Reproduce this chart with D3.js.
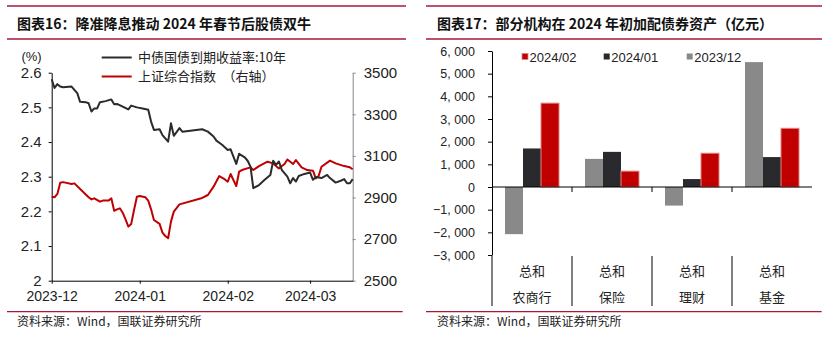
<!DOCTYPE html>
<html><head><meta charset="utf-8">
<script src="https://cdn.jsdelivr.net/npm/d3@7"></script>
<style>body{margin:0;background:#fff}svg{display:block}</style>
</head><body><svg id="c" width="832" height="337"></svg>
<script>
// ---------- Left chart data ----------
const yieldDates = ["2023-12-01","2023-12-02","2023-12-03","2023-12-04","2023-12-05","2023-12-08","2023-12-10","2023-12-11","2023-12-13","2023-12-14","2023-12-15","2023-12-16","2023-12-17","2023-12-18","2023-12-20","2023-12-22","2023-12-23","2023-12-24","2023-12-26","2023-12-28","2023-12-29","2023-12-31","2024-01-02","2024-01-04","2024-01-05","2024-01-06","2024-01-08","2024-01-09","2024-01-11","2024-01-12","2024-01-13","2024-01-15","2024-01-16","2024-01-23","2024-01-25","2024-01-27","2024-01-28","2024-01-30","2024-02-01","2024-02-02","2024-02-04","2024-02-05","2024-02-07","2024-02-08","2024-02-09","2024-02-10","2024-02-12","2024-02-14","2024-02-16","2024-02-17","2024-02-18","2024-02-19","2024-02-20","2024-02-22","2024-02-23","2024-02-24","2024-02-25","2024-02-26","2024-02-28","2024-03-01","2024-03-02","2024-03-03","2024-03-05","2024-03-07","2024-03-08","2024-03-10","2024-03-12","2024-03-13","2024-03-14","2024-03-15","2024-03-16"];
const yieldValues = [2.581,2.556,2.567,2.560,2.558,2.560,2.541,2.516,2.515,2.512,2.488,2.497,2.497,2.515,2.518,2.523,2.509,2.510,2.502,2.494,2.505,2.500,2.497,2.493,2.459,2.435,2.437,2.420,2.401,2.454,2.418,2.440,2.430,2.437,2.430,2.416,2.404,2.392,2.377,2.379,2.337,2.366,2.356,2.346,2.329,2.267,2.276,2.291,2.305,2.346,2.334,2.344,2.320,2.300,2.281,2.296,2.286,2.302,2.308,2.312,2.291,2.299,2.296,2.305,2.296,2.283,2.289,2.293,2.281,2.281,2.293];
const indexDates = ["2023-12-01","2023-12-02","2023-12-03","2023-12-04","2023-12-05","2023-12-08","2023-12-09","2023-12-12","2023-12-14","2023-12-15","2023-12-16","2023-12-18","2023-12-19","2023-12-21","2023-12-22","2023-12-23","2023-12-24","2023-12-25","2023-12-26","2023-12-27","2023-12-28","2023-12-29","2023-12-30","2023-12-31","2024-01-01","2024-01-03","2024-01-04","2024-01-05","2024-01-06","2024-01-08","2024-01-09","2024-01-10","2024-01-11","2024-01-12","2024-01-13","2024-01-15","2024-01-23","2024-01-25","2024-01-27","2024-01-29","2024-01-31","2024-02-01","2024-02-02","2024-02-04","2024-02-05","2024-02-06","2024-02-09","2024-02-10","2024-02-12","2024-02-15","2024-02-17","2024-02-19","2024-02-21","2024-02-22","2024-02-24","2024-02-25","2024-02-27","2024-02-29","2024-03-02","2024-03-03","2024-03-04","2024-03-05","2024-03-08","2024-03-10","2024-03-13","2024-03-15","2024-03-16"];
const indexValues = [2904,2901,2917,2971,2974,2965,2968,2928,2901,2891,2896,2880,2885,2885,2896,2836,2843,2848,2827,2795,2760,2773,2840,2904,2907,2901,2885,2843,2792,2773,2731,2715,2704,2784,2832,2867,2898,2912,2952,3003,2987,2976,3013,2955,3024,3032,3045,3032,3051,3072,3064,3040,3061,3083,3061,3080,3045,3032,3029,2992,3003,3048,3077,3064,3051,3045,3036];
const leftYTicks = [2, 2.1, 2.2, 2.3, 2.4, 2.5, 2.6];
const rightYTicks = [2500, 2700, 2900, 3100, 3300, 3500];
const xTickDates = ["2023-12-01","2024-01-01","2024-02-01","2024-03-01"];
const xDomain = ["2023-12-01","2024-03-16"];
const seriesLeft = ["中债国债到期收益率:10年", "上证综合指数　（右轴）"];

// ---------- Right chart data ----------
const categories = ["农商行", "保险", "理财", "基金"];
const groupLabel = "总和";
const seriesNames = ["2023/12", "2024/01", "2024/02"];
const v202312 = [-2080, 1240, -820, 5510];
const v202401 = [1700, 1550, 350, 1320];
const v202402 = [3700, 700, 1490, 2590];
const barYTicks = [-3000, -2000, -1000, 0, 1000, 2000, 3000, 4000, 5000, 6000];

const titles = ["图表16：降准降息推动 2024 年春节后股债双牛", "图表17：部分机构在 2024 年初加配债券资产（亿元）"];
const sourceText = "资料来源：Wind，国联证券研究所";

const svg = d3.select("#c");
svg.append("rect").attr("width", 832).attr("height", 337).attr("fill", "#fff");
const ruleColor = "#a8173a";
const sans = "'Liberation Sans', Arial, sans-serif";
const cjk = "'Noto Sans CJK SC', sans-serif";

// frames (rules, titles, sources)
[[7, 406, 17, 402.7], [426, 822, 437, 821.7]].forEach((f, i) => {
  svg.append("line").attr("x1", f[0]).attr("x2", f[1]).attr("y1", 6).attr("y2", 6).attr("stroke", ruleColor).attr("stroke-width", 1.5);
  svg.append("line").attr("x1", f[0]).attr("x2", f[1]).attr("y1", 39).attr("y2", 39).attr("stroke", ruleColor).attr("stroke-width", 1.5);
  svg.append("line").attr("x1", f[0]).attr("x2", f[3]).attr("y1", 311.7).attr("y2", 311.7).attr("stroke", ruleColor).attr("stroke-width", 1.3);
  svg.append("text").attr("x", f[2]).attr("y", 29).text(titles[i])
    .attr("font-family", cjk).attr("font-weight", "bold").attr("font-size", 14).attr("fill", "#111");
  svg.append("text").attr("x", f[2]).attr("y", 325.5).text(sourceText)
    .attr("font-family", cjk).attr("font-size", 12).attr("fill", "#222");
});

// ---------- Left chart ----------
const parse = d3.utcParse("%Y-%m-%d");
const xL = d3.scaleUtc().domain(xDomain.map(parse)).range([51.7, 352.7]);
const yL = d3.scaleLinear().domain([2, 2.6]).range([280.7, 72.7]);
const yR = d3.scaleLinear().domain([2500, 3500]).range([280.7, 72.7]);

const gL = svg.append("g");
const axL = gL.append("g").attr("transform", "translate(51.7,0)")
  .call(d3.axisLeft(yL).tickValues(leftYTicks).tickFormat(d => String(d)).tickSize(3).tickSizeOuter(0).tickPadding(7));
const axR = gL.append("g").attr("transform", "translate(352.7,0)")
  .call(d3.axisRight(yR).tickValues(rightYTicks).tickFormat(d3.format("d")).tickSize(3).tickSizeOuter(0).tickPadding(8));
const axB = gL.append("g").attr("transform", "translate(0,280.7)")
  .call(d3.axisBottom(xL).tickValues(xTickDates.map(parse)).tickFormat(d3.utcFormat("%Y-%m")).tickSize(3).tickSizeOuter(0).tickPadding(7));
[axL, axB].forEach(a => { a.selectAll("path,line").attr("stroke", "#000").attr("stroke-width", 1); });
axR.selectAll("path,line").attr("stroke", "#888").attr("stroke-width", 1);
[axL, axR].forEach(a => a.selectAll("text").attr("font-family", sans).attr("font-size", 15).attr("fill", "#222"));
axB.selectAll("text").attr("font-family", sans).attr("font-size", 14).attr("fill", "#222");

const lineY = d3.line().x((d, i) => xL(parse(yieldDates[i]))).y(d => yL(d));
const lineI = d3.line().x((d, i) => xL(parse(indexDates[i]))).y(d => yR(d));
gL.append("path").attr("d", lineI(indexValues)).attr("fill", "none").attr("stroke", "#c00000").attr("stroke-width", 2).attr("stroke-linejoin", "round");
gL.append("path").attr("d", lineY(yieldValues)).attr("fill", "none").attr("stroke", "#2b2b2b").attr("stroke-width", 2).attr("stroke-linejoin", "round");

gL.append("text").attr("x", 41.7).attr("y", 56.5).attr("dy", "0.35em").attr("text-anchor", "end").text("(%)")
  .attr("font-family", sans).attr("font-size", 13).attr("fill", "#222");
[["#2b2b2b", 57.5], ["#c00000", 76.5]].forEach((l, i) => {
  gL.append("line").attr("x1", 101.7).attr("x2", 131.7).attr("y1", l[1]).attr("y2", l[1]).attr("stroke", l[0]).attr("stroke-width", 2);
  gL.append("text").attr("x", 138).attr("y", l[1]).attr("dy", "0.36em").text(seriesLeft[i])
    .attr("font-family", cjk).attr("font-size", 13).attr("fill", "#222");
});

// ---------- Right chart ----------
const xB = d3.scaleBand().domain(categories).range([492, 812]).padding(0);
const xIn = d3.scaleBand().domain(seriesNames).range([13, 67]).padding(0);
const yB = d3.scaleLinear().domain([-3000, 6000]).range([255, 51]);
const colors = { "2023/12": "#898989", "2024/01": "#2a2a2e", "2024/02": "#c00000" };
const strokes = { "2023/12": "none", "2024/01": "none", "2024/02": "#e38585" };
const valuesBy = { "2023/12": v202312, "2024/01": v202401, "2024/02": v202402 };

const gR = svg.append("g");
const fmt = d => d3.format(",")(d).replace(",", ", ");
const axBY = gR.append("g").attr("transform", "translate(492,0)")
  .call(d3.axisLeft(yB).tickValues(barYTicks).tickFormat(fmt).tickSize(4).tickSizeOuter(0).tickPadding(13));
axBY.selectAll("path,line").attr("stroke", "#000");
axBY.selectAll("text").attr("font-family", sans).attr("font-size", 12.5).attr("fill", "#222");

seriesNames.forEach(s => {
  gR.append("g").selectAll("rect").data(valuesBy[s]).join("rect")
    .attr("x", (d, i) => xB(categories[i]) + xIn(s))
    .attr("width", xIn.bandwidth())
    .attr("y", d => yB(Math.max(0, d)))
    .attr("height", d => Math.abs(yB(d) - yB(0)))
    .attr("fill", colors[s]).attr("stroke", strokes[s]).attr("stroke-width", 1);
});

// x axis line at zero
gR.append("line").attr("x1", 492).attr("x2", 812).attr("y1", yB(0)).attr("y2", yB(0)).attr("stroke", "#000");
categories.slice(1).forEach(c => {
  gR.append("line").attr("x1", xB(c)).attr("x2", xB(c)).attr("y1", yB(0)).attr("y2", yB(0) + 5).attr("stroke", "#000");
});
categories.forEach(c => {
  gR.append("line").attr("x1", xB(c)).attr("x2", xB(c)).attr("y1", 256).attr("y2", 306).attr("stroke", "#000");
  const cx = xB(c) + xB.bandwidth() / 2;
  gR.append("text").attr("x", cx).attr("y", 275.5).attr("text-anchor", "middle").text(groupLabel)
    .attr("font-family", cjk).attr("font-size", 13).attr("fill", "#222");
  gR.append("text").attr("x", cx).attr("y", 301.5).attr("text-anchor", "middle").text(c)
    .attr("font-family", cjk).attr("font-size", 13).attr("fill", "#222");
});

// legend
const legendOrder = ["2024/02", "2024/01", "2023/12"];
const legendX = [522, 603.7, 686.7];
legendOrder.forEach((s, i) => {
  gR.append("rect").attr("x", legendX[i]).attr("y", 53.5).attr("width", 6).attr("height", 6)
    .attr("fill", colors[s]).attr("stroke", strokes[s]).attr("stroke-width", 0.8);
  gR.append("text").attr("x", legendX[i] + 7.5).attr("y", 61.5).text(s)
    .attr("font-family", sans).attr("font-size", 13).attr("fill", "#222");
});
</script></body></html>
